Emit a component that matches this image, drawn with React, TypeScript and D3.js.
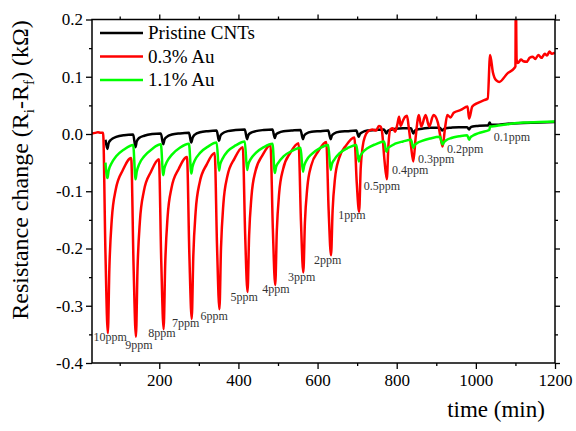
import React, { useEffect, useRef } from 'react';
import * as d3 from 'd3';

// [time (min), resistance change (kOhm)]
const pristineCNTs: [number, number][] = [
  [64, -0.010], [69, -0.026], [72, -0.016], [78, -0.010], [91, -0.005], [111, -0.002],
  [134, -0.001], [140, -0.023], [143, -0.013], [149, -0.007], [162, -0.003], [182, 0.000],
  [204, 0.001], [210, -0.018], [213, -0.010], [219, -0.005], [232, -0.001], [252, 0.001],
  [275, 0.002], [281, -0.015], [284, -0.007], [290, -0.001], [303, 0.003], [323, 0.005],
  [345, 0.006], [351, -0.012], [354, -0.004], [360, 0.001], [373, 0.005], [393, 0.007],
  [416, 0.008], [422, -0.009], [425, -0.002], [431, 0.002], [444, 0.005], [464, 0.007],
  [486, 0.008], [492, -0.007], [495, -0.001], [501, 0.002], [514, 0.005], [534, 0.006],
  [557, 0.007], [563, -0.009], [566, -0.003], [572, 0.001], [585, 0.004], [605, 0.005],
  [627, 0.006], [633, -0.009], [636, -0.003], [642, 0.001], [655, 0.004], [675, 0.005],
  [698, 0.006], [704, -0.005], [707, 0.000], [713, 0.003], [726, 0.006], [746, 0.007],
  [768, 0.008], [774, 0.001], [777, 0.005], [783, 0.007], [796, 0.009], [816, 0.010],
  [836, 0.010], [842, 0.001], [845, 0.005], [851, 0.008], [864, 0.009], [884, 0.011],
  [909, 0.011], [915, 0.006], [918, 0.008], [924, 0.010], [937, 0.011], [957, 0.012],
  [978, 0.012], [983, 0.008], [986, 0.011], [992, 0.013], [1005, 0.014], [1025, 0.015],
  [1031, 0.015], [1035, 0.020], [1038, 0.016], [1050, 0.016], [1080, 0.018], [1120, 0.019],
  [1160, 0.020], [1200, 0.021],
];

const au03: [number, number][] = [
  [30, 0.001], [38, 0.002], [45, 0.003], [52, 0.002], [58, 0.002],
  [64, -0.208], [70, -0.348], [74, -0.232], [80, -0.149], [90, -0.097], [108, -0.063],
  [129, -0.042], [135, -0.229], [141, -0.354], [145, -0.236], [151, -0.153], [161, -0.100], [179, -0.066],
  [199, -0.044], [205, -0.222], [211, -0.341], [215, -0.227], [221, -0.145], [231, -0.094], [249, -0.061],
  [270, -0.040], [276, -0.210], [282, -0.323], [286, -0.213], [292, -0.135], [302, -0.085], [320, -0.053],
  [340, -0.033], [346, -0.197], [352, -0.306], [356, -0.199], [362, -0.122], [372, -0.074], [390, -0.043],
  [411, -0.023], [417, -0.175], [423, -0.276], [427, -0.178], [433, -0.109], [443, -0.065], [461, -0.037],
  [481, -0.019], [487, -0.166], [493, -0.264], [497, -0.170], [503, -0.103], [513, -0.061], [531, -0.033],
  [552, -0.016], [558, -0.152], [564, -0.242], [568, -0.155], [574, -0.094], [584, -0.055], [602, -0.030],
  [622, -0.014], [628, -0.133], [634, -0.212], [638, -0.134], [644, -0.078], [654, -0.043], [672, -0.020],
  [693, -0.006], [699, -0.085], [705, -0.136], [709, -0.060], [714, -0.022], [720, -0.004], [727, 0.004],
  [738, 0.008], [748, 0.006], [755, 0.014], [759, 0.013],
  [763, 0.004], [769, -0.045], [775, -0.079], [779, -0.020], [784, 0.008], [790, 0.010], [796, 0.004],
  [802, 0.018], [806, 0.030], [810, 0.014], [815, 0.022], [821, 0.030], [826, 0.032], [830, 0.014],
  [836, -0.020], [842, -0.048], [848, -0.005], [856, 0.033], [862, 0.013], [873, 0.033], [882, 0.013],
  [893, 0.033], [904, 0.020], [910, -0.003], [916, -0.022], [922, 0.010], [928, 0.033], [936, 0.029],
  [944, 0.037], [962, 0.042], [979, 0.048], [983, 0.027], [991, 0.048], [1004, 0.054], [1021, 0.059],
  [1030, 0.062], [1036, 0.138], [1043, 0.108], [1051, 0.094], [1059, 0.091], [1080, 0.106], [1097, 0.115],
  [1100, 0.118], [1101, 0.25], [1103, 0.130], [1106, 0.124], [1114, 0.130], [1120, 0.127], [1128, 0.126],
  [1136, 0.133], [1144, 0.135], [1150, 0.131], [1158, 0.138], [1166, 0.133], [1174, 0.140], [1180, 0.137],
  [1186, 0.144], [1192, 0.140], [1200, 0.142],
];

const au11: [number, number][] = [
  [64, -0.050], [69, -0.077], [72, -0.064], [78, -0.053], [91, -0.039], [111, -0.027],
  [134, -0.019], [140, -0.079], [143, -0.066], [149, -0.053], [162, -0.039], [182, -0.026],
  [204, -0.018], [210, -0.072], [213, -0.060], [219, -0.049], [232, -0.036], [252, -0.024],
  [275, -0.017], [281, -0.069], [284, -0.057], [290, -0.046], [303, -0.033], [323, -0.022],
  [345, -0.015], [351, -0.064], [354, -0.053], [360, -0.043], [373, -0.030], [393, -0.020],
  [416, -0.013], [422, -0.063], [425, -0.053], [431, -0.044], [444, -0.033], [464, -0.023],
  [486, -0.017], [492, -0.068], [495, -0.058], [501, -0.050], [514, -0.039], [534, -0.030],
  [557, -0.024], [563, -0.066], [566, -0.056], [572, -0.046], [585, -0.035], [605, -0.025],
  [627, -0.019], [633, -0.063], [636, -0.053], [642, -0.045], [655, -0.034], [675, -0.025],
  [698, -0.019], [704, -0.048], [707, -0.040], [713, -0.033], [726, -0.025], [746, -0.018],
  [768, -0.013], [774, -0.031], [777, -0.026], [783, -0.022], [796, -0.017], [816, -0.013],
  [836, -0.010], [842, -0.024], [845, -0.020], [851, -0.016], [864, -0.012], [884, -0.008],
  [909, -0.005], [916, -0.018], [919, -0.015], [925, -0.011], [938, -0.007], [958, -0.004],
  [978, -0.002], [983, -0.010], [986, -0.006], [992, -0.003], [1005, 0.001], [1025, 0.005],
  [1034, 0.007], [1036, 0.013], [1050, 0.014], [1080, 0.017], [1120, 0.020], [1160, 0.021], [1200, 0.022],
];

const seriesNames = ['Pristine CNTs', '0.3% Au', '1.1% Au'];
const seriesColors = ['#000000', '#ff0000', '#00ff00'];

// concentration labels, anchored in data units (time, value)
const doseLabels = ['10ppm', '9ppm', '8ppm', '7ppm', '6ppm', '5ppm', '4ppm', '3ppm', '2ppm', '1ppm',
  '0.5ppm', '0.4ppm', '0.3ppm', '0.2ppm', '0.1ppm'];
const doseLabelTime = [34, 114, 172, 232, 304, 380, 460, 525, 591, 652, 717, 788, 854, 927, 1045];
const doseLabelValue = [-0.362, -0.376, -0.355, -0.337, -0.325, -0.292, -0.278, -0.257, -0.227, -0.148,
  -0.097, -0.069, -0.050, -0.033, -0.012];

const xMajor = [200, 400, 600, 800, 1000, 1200];
const xMinor = [100, 300, 500, 700, 900, 1100];
const yMajor = [0.2, 0.1, 0.0, -0.1, -0.2, -0.3, -0.4];
const yMinor = [0.15, 0.05, -0.05, -0.15, -0.25, -0.35];

const FONT = "'Liberation Serif', 'Times New Roman', serif";

export default function App() {
  const ref = useRef<SVGSVGElement>(null);

  useEffect(() => {
    const svg = d3.select(ref.current);
    svg.selectAll('*').remove();

    const left = 92, right = 555, top = 19.5, bottom = 363;
    const x = d3.scaleLinear().domain([30, 1200]).range([left, right]);
    const y = d3.scaleLinear().domain([-0.4, 0.2]).range([bottom, top]);

    svg.append('defs').append('clipPath').attr('id', 'plotclip')
      .append('rect').attr('x', left).attr('y', top).attr('width', right - left).attr('height', bottom - top);

    // axes (ticks on all four sides, labels left/bottom)
    const fmt = (d: any) => Number(d).toFixed(1);
    const addAxis = (axis: any, tx: number, ty: number, labelled: boolean) => {
      const g = svg.append('g').attr('transform', `translate(${tx},${ty})`).call(axis);
      g.attr('font-family', null).attr('font-size', null);
      g.select('.domain').remove();
      g.selectAll('line').attr('stroke', '#000').attr('stroke-width', 1.3);
      if (labelled) {
        g.selectAll('text')
          .style('font-family', FONT).style('font-size', '17px').attr('fill', '#000');
      } else {
        g.selectAll('text').remove();
      }
      return g;
    };
    addAxis(d3.axisLeft(y).tickValues(yMajor).tickSize(6).tickPadding(3).tickFormat(fmt), left, 0, true);
    addAxis(d3.axisLeft(y).tickValues(yMinor).tickSize(3).tickFormat(() => ''), left, 0, false);
    addAxis(d3.axisRight(y).tickValues(yMajor).tickSize(5).tickFormat(() => ''), right, 0, false);
    addAxis(d3.axisRight(y).tickValues(yMinor).tickSize(3).tickFormat(() => ''), right, 0, false);
    addAxis(d3.axisBottom(x).tickValues(xMajor).tickSize(6).tickPadding(5).tickFormat((d: any) => String(d)), 0, bottom, true);
    addAxis(d3.axisBottom(x).tickValues(xMinor).tickSize(3).tickFormat(() => ''), 0, bottom, false);
    addAxis(d3.axisTop(x).tickValues(xMajor).tickSize(5).tickFormat(() => ''), 0, top, false);
    addAxis(d3.axisTop(x).tickValues(xMinor).tickSize(3).tickFormat(() => ''), 0, top, false);

    // lines
    const line = d3.line<[number, number]>()
      .x(d => x(d[0]))
      .y(d => y(d[1]))
      .curve(d3.curveMonotoneX);

    const plot = svg.append('g').attr('clip-path', 'url(#plotclip)');
    [pristineCNTs, au03, au11].forEach((data, i) => {
      plot.append('path')
        .datum(data)
        .attr('d', line)
        .attr('fill', 'none')
        .attr('stroke', seriesColors[i])
        .attr('stroke-width', 2.5)
        .attr('stroke-linejoin', 'round');
    });

    // frame
    svg.append('rect')
      .attr('x', left).attr('y', top)
      .attr('width', right - left).attr('height', bottom - top)
      .attr('fill', 'none').attr('stroke', '#000').attr('stroke-width', 1.5);

    // concentration labels
    svg.append('g').selectAll('text')
      .data(doseLabels)
      .enter().append('text')
      .attr('x', (d, i) => x(doseLabelTime[i]))
      .attr('y', (d, i) => y(doseLabelValue[i]))
      .style('font-family', FONT)
      .style('font-size', '12px')
      .attr('fill', '#333')
      .text(d => d);

    // legend
    const lg = svg.append('g');
    seriesNames.forEach((name, i) => {
      const ly = 33 + i * 23.5;
      lg.append('line')
        .attr('x1', 100).attr('x2', 143).attr('y1', ly).attr('y2', ly)
        .attr('stroke', seriesColors[i]).attr('stroke-width', 2.5);
      lg.append('text')
        .attr('x', 148).attr('y', ly + 6)
        .style('font-family', FONT).style('font-size', '19px').attr('fill', '#000')
        .text(name);
    });

    // axis titles
    svg.append('text')
      .attr('x', 496).attr('y', 417)
      .attr('text-anchor', 'middle')
      .style('font-family', FONT).style('font-size', '23px')
      .text('time (min)');

    const yt = svg.append('text')
      .attr('transform', 'translate(28,170) rotate(-90)')
      .attr('text-anchor', 'middle')
      .style('font-family', FONT).style('font-size', '24px');
    yt.append('tspan').text('Resistance change (R');
    yt.append('tspan').attr('dy', 6).style('font-size', '15px').text('i');
    yt.append('tspan').attr('dy', -6).text('-R');
    yt.append('tspan').attr('dy', 6).style('font-size', '15px').text('f');
    yt.append('tspan').attr('dy', -6).text(') (kΩ)');
  }, []);

  return (
    <svg ref={ref} width={576} height={431}
      style={{ position: 'absolute', left: 0, top: 0, background: '#fff' }} />
  );
}
